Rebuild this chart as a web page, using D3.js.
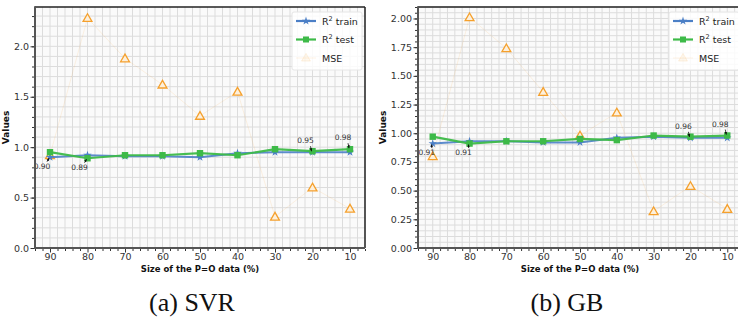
<!DOCTYPE html>
<html>
<head>
<meta charset="utf-8">
<script src="https://cdn.jsdelivr.net/npm/d3@7"></script>
<style>
  html, body { margin: 0; padding: 0; background: #fff; }
  svg { display: block; }
</style>
</head>
<body>
<svg id="chart" width="738" height="322"></svg>
<script>
// Share of the P=O data used (%)
const dataSizes = [90, 80, 70, 60, 50, 40, 30, 20, 10];

// SVR results
const svrTrain = [0.90, 0.92, 0.91, 0.91, 0.90, 0.94, 0.95, 0.95, 0.95];
const svrTest  = [0.95, 0.89, 0.92, 0.92, 0.94, 0.92, 0.98, 0.96, 0.98];
const svrMse   = [0.92, 2.28, 1.88, 1.62, 1.31, 1.55, 0.31, 0.60, 0.39];

// Gradient boosting results
const gbTrain = [0.91, 0.93, 0.93, 0.92, 0.92, 0.96, 0.97, 0.96, 0.96];
const gbTest  = [0.97, 0.91, 0.93, 0.93, 0.95, 0.94, 0.98, 0.97, 0.98];
const gbMse   = [0.80, 2.01, 1.74, 1.36, 0.98, 1.18, 0.32, 0.54, 0.34];

// Tick labels
const xTicks = [90, 80, 70, 60, 50, 40, 30, 20, 10];
const yTicksSvr = [0, 0.5, 1.0, 1.5, 2.0];
const yTicksGb = [0, 0.25, 0.5, 0.75, 1.0, 1.25, 1.5, 1.75, 2.0];

const seriesLabels = ["train", "test", "MSE"];
const captions = ["(a) SVR", "(b) GB"];
const xLabel = "Size of the P=O data (%)";
const yLabel = "Values";

const colors = { train: "#4b7fc6", test: "#3dba48", mse: "#f5a02c" };

const panels = [
  {
    caption: captions[0], train: svrTrain, test: svrTest, mse: svrMse,
    yTicks: yTicksSvr, yFmt: d3.format(".1f"), yMax: 2.39, yMinor: 0.1,
    box: { left: 35, right: 365, top: 7, bottom: 248 },
    captionX: 192, xLabelX: 200,
    notes: [
      { i: 0, key: "train", dx: -8, dy: 8 },
      { i: 1, key: "test", dx: -8, dy: 8 },
      { i: 7, key: "train", dx: -7, dy: -8 },
      { i: 8, key: "test", dx: -7, dy: -8 }
    ]
  },
  {
    caption: captions[1], train: gbTrain, test: gbTest, mse: gbMse,
    yTicks: yTicksGb, yFmt: d3.format(".2f"), yMax: 2.1, yMinor: 0.05,
    box: { left: 418, right: 742, top: 7, bottom: 248 },
    captionX: 567, xLabelX: 580,
    notes: [
      { i: 0, key: "train", dx: -6, dy: 8 },
      { i: 1, key: "test", dx: -6, dy: 8 },
      { i: 7, key: "train", dx: -7, dy: -8 },
      { i: 8, key: "test", dx: -7, dy: -8 }
    ]
  }
];

const svg = d3.select("#chart");
const font = "DejaVu Sans, sans-serif";

const defs = svg.append("defs");
defs.append("marker")
  .attr("id", "arrowhead")
  .attr("viewBox", "0 0 10 10")
  .attr("refX", 9).attr("refY", 5)
  .attr("markerWidth", 4).attr("markerHeight", 4)
  .attr("orient", "auto")
  .append("path").attr("d", "M0,1 L10,5 L0,9 Z").attr("fill", "#111");

panels.forEach((p, pi) => {
  const b = p.box;
  defs.append("clipPath").attr("id", "clip" + pi)
    .append("rect")
    .attr("x", b.left).attr("y", b.top)
    .attr("width", b.right - b.left).attr("height", b.bottom - b.top);

  const x = d3.scaleLinear().domain([94, 6]).range([b.left, b.right]);
  const y = d3.scaleLinear().domain([0, p.yMax]).range([b.bottom, b.top]);

  const g = svg.append("g");

  // plot background
  g.append("rect")
    .attr("x", b.left).attr("y", b.top)
    .attr("width", b.right - b.left).attr("height", b.bottom - b.top)
    .attr("fill", "#fafafa");

  // grid (major + minor)
  const xMinor = d3.range(6, 95, 2);
  const yMinor = d3.range(0, p.yMax + 1e-9, p.yMinor);
  const grid = g.append("g").attr("stroke", "#dcdcdc").attr("stroke-width", 1);
  grid.selectAll("line.vx").data(xMinor).join("line")
    .attr("x1", d => x(d)).attr("x2", d => x(d))
    .attr("y1", b.top).attr("y2", b.bottom);
  grid.selectAll("line.hy").data(yMinor.filter(d => d > 0)).join("line")
    .attr("x1", b.left).attr("x2", b.right)
    .attr("y1", d => y(d)).attr("y2", d => y(d));

  const plot = g.append("g").attr("clip-path", `url(#clip${pi})`);

  // MSE: faint connecting line and hollow triangles
  const line = d3.line().x((d, i) => x(dataSizes[i])).y(d => y(d));
  plot.append("path").datum(p.mse)
    .attr("d", line).attr("fill", "none")
    .attr("stroke", colors.mse).attr("stroke-opacity", 0.12).attr("stroke-width", 1);
  const tri = d3.symbol().type(d3.symbolTriangle).size(34);
  plot.selectAll("path.mse").data(p.mse).join("path")
    .attr("transform", (d, i) => `translate(${x(dataSizes[i])},${y(d) + 0.8})`)
    .attr("d", tri)
    .attr("fill", "#fdf0dc").attr("stroke", colors.mse).attr("stroke-width", 1.3);

  // R² train
  plot.append("path").datum(p.train)
    .attr("d", line).attr("fill", "none")
    .attr("stroke", colors.train).attr("stroke-width", 2).attr("stroke-opacity", 0.9);
  const star = d3.symbol().type(d3.symbolStar).size(22);
  plot.selectAll("path.train").data(p.train).join("path")
    .attr("transform", (d, i) => `translate(${x(dataSizes[i])},${y(d)})`)
    .attr("d", star).attr("fill", colors.train);

  // R² test
  plot.append("path").datum(p.test)
    .attr("d", line).attr("fill", "none")
    .attr("stroke", colors.test).attr("stroke-width", 2.2).attr("stroke-opacity", 0.95);
  plot.selectAll("rect.test").data(p.test).join("rect")
    .attr("x", (d, i) => x(dataSizes[i]) - 3.2).attr("y", d => y(d) - 3.2)
    .attr("width", 6.4).attr("height", 6.4).attr("fill", colors.test);

  // value annotations
  const fmt2 = d3.format(".2f");
  p.notes.forEach(n => {
    const v = p[n.key][n.i];
    const px = x(dataSizes[n.i]), py = y(v);
    const tx = px + n.dx, ty = py + n.dy;
    g.append("text")
      .attr("x", tx).attr("y", ty + (n.dy > 0 ? 3.5 : -1))
      .attr("text-anchor", "middle")
      .attr("font-family", font).attr("font-size", 7.5).attr("fill", "#333")
      .text(fmt2(v));
    const sx = tx + 5, sy = ty + (n.dy > 0 ? -3.5 : 2);
    g.append("line")
      .attr("x1", sx).attr("y1", sy)
      .attr("x2", px - 1).attr("y2", py + (n.dy > 0 ? 1 : -1))
      .attr("stroke", "#111").attr("stroke-width", 0.8)
      .attr("marker-end", "url(#arrowhead)");
  });

  // spines
  const sp = g.append("g");
  sp.append("line").attr("x1", b.left).attr("x2", b.right).attr("y1", b.top).attr("y2", b.top)
    .attr("stroke", "#222").attr("stroke-width", 1.5);
  sp.append("line").attr("x1", b.right).attr("x2", b.right).attr("y1", b.top).attr("y2", b.bottom)
    .attr("stroke", "#222").attr("stroke-width", 1.5);
  sp.append("line").attr("x1", b.left).attr("x2", b.left).attr("y1", b.top - 0.75).attr("y2", b.bottom + 1)
    .attr("stroke", "#555").attr("stroke-width", 2);
  sp.append("line").attr("x1", b.left - 1).attr("x2", b.right).attr("y1", b.bottom).attr("y2", b.bottom)
    .attr("stroke", "#555").attr("stroke-width", 2);

  // axes
  const xAxis = d3.axisBottom(x).tickValues(xTicks).tickFormat(d3.format("d"))
    .tickSize(3.5).tickPadding(0.5);
  const xa = g.append("g").attr("transform", `translate(0,${b.bottom + 1})`).call(xAxis);
  const xMinorAxis = d3.axisBottom(x).tickValues(xMinor.filter(d => d % 10 !== 0))
    .tickSize(2).tickFormat("");
  const xm = g.append("g").attr("transform", `translate(0,${b.bottom + 1})`).call(xMinorAxis);

  const yAxis = d3.axisLeft(y).tickValues(p.yTicks).tickFormat(p.yFmt).tickSize(3.5).tickPadding(1.5);
  const ya = g.append("g").attr("transform", `translate(${b.left - 1},0)`).call(yAxis);
  const yMinorAxis = d3.axisLeft(y).tickValues(yMinor).tickSize(2).tickFormat("");
  const ym = g.append("g").attr("transform", `translate(${b.left - 1},0)`).call(yMinorAxis);

  [xa, xm, ya, ym].forEach(a => {
    a.select(".domain").remove();
    a.selectAll(".tick line").attr("stroke", "#333").attr("stroke-width", 1);
    a.selectAll("text").attr("font-family", font).attr("font-size", 9.5).attr("fill", "#333");
  });

  // axis titles
  g.append("text")
    .attr("x", p.xLabelX)
    .attr("y", 271.5)
    .attr("text-anchor", "middle")
    .attr("font-family", font).attr("font-size", 8.5).attr("font-weight", "bold").attr("fill", "#111")
    .text(xLabel);
  g.append("text")
    .attr("transform", `translate(${b.left - 26 - (pi === 1 ? 6 : 0)},${(b.top + b.bottom) / 2}) rotate(-90)`)
    .attr("text-anchor", "middle")
    .attr("font-family", font).attr("font-size", 9).attr("font-weight", "bold").attr("fill", "#111")
    .text(yLabel);

  // legend
  const lgX = pi === 0 ? 292 : 669;
  const lg = g.append("g").attr("transform", `translate(${lgX},12)`);
  lg.append("rect").attr("width", 70).attr("height", 58).attr("rx", 2)
    .attr("fill", "#fff").attr("fill-opacity", 0.85).attr("stroke", "#e6e6e6").attr("stroke-width", 1);
  const rows = [
    { key: "train", label: seriesLabels[0] },
    { key: "test", label: seriesLabels[1] },
    { key: "mse", label: seriesLabels[2] }
  ];
  rows.forEach((r, ri) => {
    const ry = 9 + ri * 18.5;
    const row = lg.append("g").attr("transform", `translate(0,${ry})`);
    if (r.key === "mse") {
      row.append("line").attr("x1", 4).attr("x2", 24).attr("stroke", colors.mse)
        .attr("stroke-opacity", 0.12).attr("stroke-width", 1);
      row.append("path").attr("transform", "translate(14,0.5)").attr("d", tri)
        .attr("fill", colors.mse).attr("fill-opacity", 0.08)
        .attr("stroke", colors.mse).attr("stroke-opacity", 0.12);
      row.append("text").attr("x", 30).attr("y", 3.5)
        .attr("font-family", font).attr("font-size", 9.5).attr("fill", "#222").text(r.label);
    } else {
      row.append("line").attr("x1", 4).attr("x2", 24).attr("stroke", colors[r.key])
        .attr("stroke-width", 2.2);
      if (r.key === "train") {
        row.append("path").attr("transform", "translate(14,0)").attr("d", star).attr("fill", colors.train);
      } else {
        row.append("rect").attr("x", 11).attr("y", -3).attr("width", 6).attr("height", 6).attr("fill", colors.test);
      }
      const t = row.append("text").attr("x", 30).attr("y", 3.5)
        .attr("font-family", font).attr("font-size", 9.5).attr("fill", "#222");
      t.append("tspan").text("R");
      t.append("tspan").attr("dy", -4).attr("font-size", 6.5).text("2");
      t.append("tspan").attr("dy", 4).text(" " + r.label);
    }
  });

  // subfigure caption
  svg.append("text")
    .attr("x", p.captionX).attr("y", 311)
    .attr("text-anchor", "middle")
    .attr("font-family", "Liberation Serif, serif").attr("font-size", 26).attr("fill", "#111")
    .text(p.caption);
});
</script>
</body>
</html>
